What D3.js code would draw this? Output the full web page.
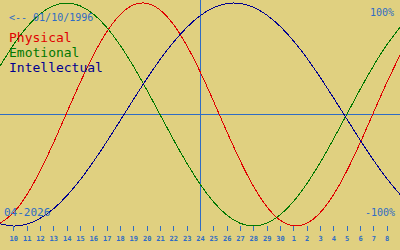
<!DOCTYPE html>
<html>
<head>
<meta charset="utf-8">
<script src="https://cdn.jsdelivr.net/npm/d3@7/dist/d3.min.js"></script>
<style>
  html, body { margin: 0; padding: 0; background: #e0d080; }
  svg { display: block; }
</style>
</head>
<body>
<div id="chart"></div>
<script>
// window: 9 Apr 2026 .. 9 May 2026, one value per day
var startDay = "2026-04-09"
var endDay = "2026-05-09"
var markDay = "2026-04-24"
var birthLabel = "<-- 01/10/1996"
var monthLabel = "04-2026"

var physical = [-0.976, -0.882, -0.722, -0.508, -0.257, 0.014, 0.283, 0.531, 0.740, 0.894,
    0.982, 0.997, 0.938, 0.809, 0.620, 0.386, 0.123, -0.150, -0.411, -0.642,
    -0.825, -0.947, -0.998, -0.976, -0.882, -0.722, -0.508, -0.257, 0.014, 0.283, 0.531]
var emotional = [0.434, 0.623, 0.782, 0.901, 0.975, 1.000, 0.975, 0.901, 0.782, 0.623,
    0.434, 0.223, 0.000, -0.223, -0.434, -0.623, -0.782, -0.901, -0.975, -1.000,
    -0.975, -0.901, -0.782, -0.623, -0.434, -0.223, 0.000, 0.223, 0.434, 0.623, 0.782]
var intellectual = [-0.980, -1.000, -0.984, -0.932, -0.847, -0.730, -0.588, -0.424, -0.245, -0.057,
    0.133, 0.318, 0.492, 0.647, 0.780, 0.885, 0.957, 0.995, 0.996, 0.962,
    0.893, 0.792, 0.662, 0.508, 0.336, 0.152, -0.038, -0.227, -0.407, -0.572, -0.717]

var series = [
    {name: "Physical", values: physical, color: "#e00000"},
    {name: "Emotional", values: emotional, color: "#007800"},
    {name: "Intellectual", values: intellectual, color: "#000090"}
]

var width = 400, height = 250
var blue = "#2f6cc4"
var mono = "'DejaVu Sans Mono', 'Liberation Mono', monospace"

var parse = d3.timeParse("%Y-%m-%d")
var days = d3.timeDay.range(parse(startDay), d3.timeDay.offset(parse(endDay), 1))

var x = d3.scaleTime().domain([parse(startDay), parse(endDay)]).range([0, width])
var y = d3.scaleLinear().domain([-1, 1]).range([226, 3])

var svg = d3.select("#chart").append("svg").attr("width", width).attr("height", height)
svg.append("rect").attr("width", width).attr("height", height).attr("fill", "#e0d080")

// zero line and today marker
svg.append("line").attr("x1", 0).attr("x2", width).attr("y1", y(0)).attr("y2", y(0))
    .attr("stroke", blue).attr("shape-rendering", "crispEdges")
svg.append("line").attr("x1", x(parse(markDay))).attr("x2", x(parse(markDay)))
    .attr("y1", 0).attr("y2", 231)
    .attr("stroke", blue).attr("shape-rendering", "crispEdges")

var line = d3.line()
    .x(function(d, i){ return x(days[i]) })
    .y(function(d){ return y(d) })
    .curve(d3.curveNatural)

svg.selectAll("path.bio").data(series).enter().append("path")
    .attr("class", "bio")
    .attr("d", function(s){ return line(s.values) })
    .attr("fill", "none")
    .attr("stroke", function(s){ return s.color })
    .attr("stroke-width", 1)
    .attr("shape-rendering", "crispEdges")

// day axis along the bottom
var tickDays = days.slice(1, days.length - 1)
var axis = svg.append("g").attr("transform", "translate(0,226)")
    .call(d3.axisBottom(x).tickValues(tickDays).tickFormat(d3.timeFormat("%-d")).tickSize(5).tickPadding(4))
axis.select(".domain").remove()
axis.selectAll(".tick line").attr("stroke", blue).attr("shape-rendering", "crispEdges")
axis.selectAll(".tick text").attr("fill", blue)
    .style("font-family", mono).style("font-size", "7px").style("font-weight", "bold")
    .attr("dy", null).attr("y", 14.5)

// labels
svg.append("text").attr("x", 9).attr("y", 21).text(birthLabel)
    .attr("fill", blue).style("font-family", mono).style("font-size", "10px")
svg.selectAll("text.legend").data(series).enter().append("text")
    .attr("class", "legend")
    .attr("x", 9)
    .attr("y", function(d, i){ return 42 + i * 15 })
    .attr("fill", function(d){ return d.color })
    .style("font-family", mono).style("font-size", "13px")
    .text(function(d){ return d.name })
svg.append("text").attr("x", 394).attr("y", 16).attr("text-anchor", "end").text("100%")
    .attr("fill", blue).style("font-family", mono).style("font-size", "10px")
svg.append("text").attr("x", 395).attr("y", 216).attr("text-anchor", "end").text("-100%")
    .attr("fill", blue).style("font-family", mono).style("font-size", "10px")
svg.append("text").attr("x", 4).attr("y", 216).text(monthLabel)
    .attr("fill", blue).style("font-family", mono).style("font-size", "11px")
</script>
</body>
</html>
